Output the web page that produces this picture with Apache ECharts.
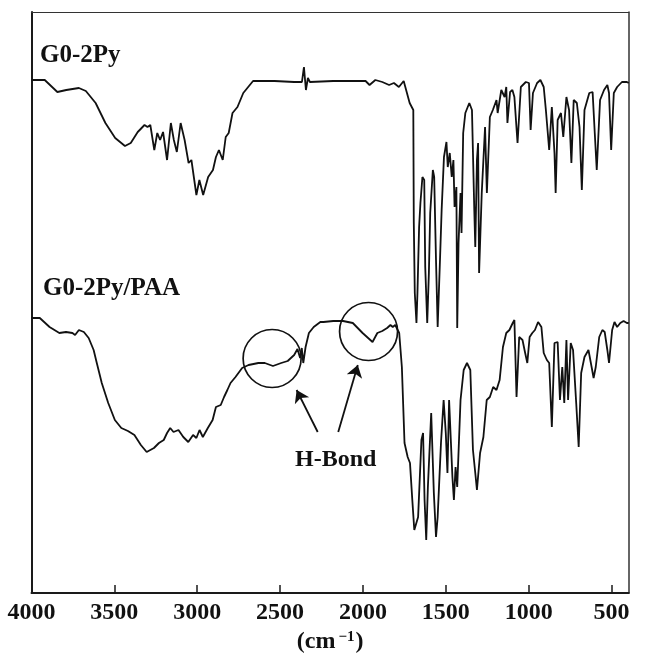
<!DOCTYPE html>
<html><head><meta charset="utf-8">
<script src="https://cdn.jsdelivr.net/npm/echarts@6/dist/echarts.min.js"></script>
<style>html,body{margin:0;padding:0;background:#fff}#c{width:645px;height:664px}</style>
</head><body><div id="c"></div>
<script>
// G0-2Py spectrum (wavenumber, relative transmittance a.u.)
const topWn=[4000,3920,3844,3790,3714,3672,3613,3554,3495,3436,
3401,3359,3318,3300,3283,3259,3241,3224,3206,3182,
3159,3141,3123,3100,3076,3052,3035,3005,2987,2964,
2934,2905,2887,2869,2846,2828,2810,2787,2757,2722,
2663,2533,2415,2368,2356,2344,2332,2320,2179,1984,
1960,1925,1883,1842,1813,1783,1754,1736,1718,1696,
1693,1687,1677,1671,1661,1653,1641,1630,1624,1612,
1602,1594,1578,1570,1559,1549,1535,1525,1511,1496,
1488,1476,1464,1454,1447,1436,1431,1423,1411,1405,
1395,1382,1358,1342,1328,1322,1312,1305,1299,1283,
1263,1252,1234,1216,1194,1187,1165,1145,1135,1128,
1112,1098,1086,1067,1047,1017,998,988,974,949,
929,909,896,876,860,844,837,825,805,791,
772,756,742,728,709,693,679,663,634,614,
601,589,569,545,525,515,502,486,466,437,
407,396];
const topT=[513,513,501,503,505,502,490,470,455,447,
450,461,468,466,468,443,460,453,461,433,
470,453,441,470,453,430,433,398,413,398,
416,423,436,443,433,456,460,480,486,500,
512,512,511,511,526,503,515,511,512,512,
508,513,511,508,510,506,512,501,490,483,
370,300,270,300,366,390,416,413,326,270,
320,380,423,416,333,266,333,383,436,451,
426,440,416,433,386,406,265,350,400,360,
460,480,490,483,383,346,433,450,320,400,
466,400,476,483,493,480,503,496,506,470,
501,503,496,450,506,511,510,463,500,510,
513,506,483,443,486,440,400,473,480,456,
496,483,430,493,490,466,403,483,500,501,
460,423,493,503,508,500,443,500,506,511,
511,510];
// G0-2Py/PAA spectrum
const botWn=[4000,3950,3891,3832,3792,3753,3737,3714,3684,3655,
3625,3606,3576,3537,3497,3458,3418,3379,3340,3305,
3261,3231,3202,3182,3163,3143,3113,3084,3054,3025,
3005,2986,2966,2936,2907,2887,2858,2838,2818,2799,
2769,2729,2690,2631,2592,2543,2493,2454,2415,2395,
2379,2369,2360,2346,2326,2297,2257,2238,2179,2120,
2061,2002,1942,1913,1883,1854,1834,1820,1805,1781,
1765,1749,1730,1716,1702,1690,1667,1647,1637,1628,
1618,1608,1588,1572,1559,1549,1529,1513,1500,1490,
1480,1470,1460,1451,1441,1431,1411,1392,1372,1352,
1336,1322,1312,1293,1273,1253,1234,1214,1194,1175,
1155,1135,1116,1096,1086,1073,1057,1037,1021,1008,
994,978,962,943,923,909,890,876,860,844,
825,811,797,785,772,762,746,732,713,698,
683,663,639,620,608,595,574,555,541,525,
515,496,482,466,447,427,407,396];
const botT=[275,275,266,260,261,260,258,263,261,255,
243,230,210,190,173,165,162,158,148,141,
145,150,153,160,165,161,163,156,151,158,
155,163,156,165,173,186,188,196,203,210,
216,225,228,230,230,227,230,232,238,244,
235,245,230,246,260,266,271,271,272,272,
270,260,251,260,262,265,268,266,268,260,
226,150,136,130,93,63,76,153,160,93,
53,106,180,100,56,76,150,193,160,120,
193,193,116,93,126,106,193,223,230,223,
143,120,103,140,156,193,196,206,203,213,
246,260,263,270,273,196,256,253,240,230,
256,260,263,271,266,240,233,230,166,250,
251,193,226,190,253,193,250,243,190,146,
220,236,243,226,215,226,256,263,261,243,
230,263,271,266,270,272,270,270];
const xTicks=[500,1000,1500,2000,2500,3000,3500];
const xLabels=[500,1000,1500,2000,2500,3000,3500,4000];
// H-bond annotations
const circleWn=[2548,1966];
const circleT=[234.5,261.5];
const arrowFromWn=[2273,2149], arrowFromT=[161,161];
const arrowToWn=[2400,2031], arrowToT=[203,228];

const FF='"Liberation Serif","Times New Roman",serif';
const zip=(a,b)=>a.map((v,i)=>[v,b[i]]);
const chart=echarts.init(document.getElementById('c'),null,{renderer:'canvas'});
const XMIN=396,XMAX=4000,YMIN=0,YMAX=581;
chart.setOption({
  animation:false,
  backgroundColor:'#fff',
  grid:{left:31.5,right:3,top:12,bottom:71},
  xAxis:[{
    type:'value',inverse:true,min:XMIN,max:XMAX,position:'bottom',
    axisLine:{show:true,onZero:false,lineStyle:{color:'#1a1a1a',width:2}},
    axisTick:{show:true,inside:true,length:8,customValues:xTicks,lineStyle:{color:'#1a1a1a',width:1.5}},
    axisLabel:{customValues:xLabels,formatter:v=>String(v),fontFamily:FF,fontWeight:'bold',fontSize:24,color:'#111',margin:8},
    splitLine:{show:false},
    name:'(cm{sup|−1})',nameLocation:'middle',nameGap:33,
    nameTextStyle:{fontFamily:FF,fontWeight:'bold',fontSize:24,color:'#111',
      rich:{sup:{fontFamily:FF,fontWeight:'bold',fontSize:15,color:'#111',verticalAlign:'top',padding:[0,1,8,3]}}}
  },{
    type:'value',inverse:true,min:XMIN,max:XMAX,position:'top',
    axisLine:{show:true,onZero:false,lineStyle:{color:'#333',width:1.2}},
    axisTick:{show:false},axisLabel:{show:false},splitLine:{show:false}
  }],
  yAxis:[{
    type:'value',min:YMIN,max:YMAX,position:'left',
    axisLine:{show:true,onZero:false,lineStyle:{color:'#1a1a1a',width:2}},
    axisTick:{show:false},axisLabel:{show:false},splitLine:{show:false}
  },{
    type:'value',min:YMIN,max:YMAX,position:'right',
    axisLine:{show:true,onZero:false,lineStyle:{color:'#333',width:1.5}},
    axisTick:{show:false},axisLabel:{show:false},splitLine:{show:false}
  }],
  series:[
    {name:'G0-2Py',type:'line',data:zip(topWn,topT),showSymbol:false,symbol:'none',
     lineStyle:{color:'#111',width:1.8},z:3},
    {name:'G0-2Py/PAA',type:'line',data:zip(botWn,botT),showSymbol:false,symbol:'none',
     lineStyle:{color:'#111',width:1.8},z:3},
    {name:'H-Bond',type:'scatter',data:zip(circleWn,circleT),symbol:'circle',symbolSize:58,
     itemStyle:{color:'rgba(0,0,0,0)',borderColor:'#111',borderWidth:1.7,opacity:1},silent:true,z:4,
     markLine:{silent:true,animation:false,symbol:['none','arrow'],symbolSize:12,
       lineStyle:{color:'#111',width:1.8,type:'solid',opacity:1},itemStyle:{color:'#111'},label:{show:false},
       emphasis:{disabled:true},
       data:arrowFromWn.map((w,i)=>[{coord:[w,arrowFromT[i]]},{coord:[arrowToWn[i],arrowToT[i]]}])}}
  ],
  graphic:[
    {type:'text',x:40,y:56,style:{text:'G0-2Py',font:'bold 25px '+FF,fill:'#111',align:'left',verticalAlign:'middle'}},
    {type:'text',x:43,y:289,style:{text:'G0-2Py/PAA',font:'bold 25px '+FF,fill:'#111',align:'left',verticalAlign:'middle'}},
    {type:'text',x:295,y:460,style:{text:'H-Bond',font:'bold 24px '+FF,fill:'#111',align:'left',verticalAlign:'middle'}}
  ]
});
</script></body></html>
